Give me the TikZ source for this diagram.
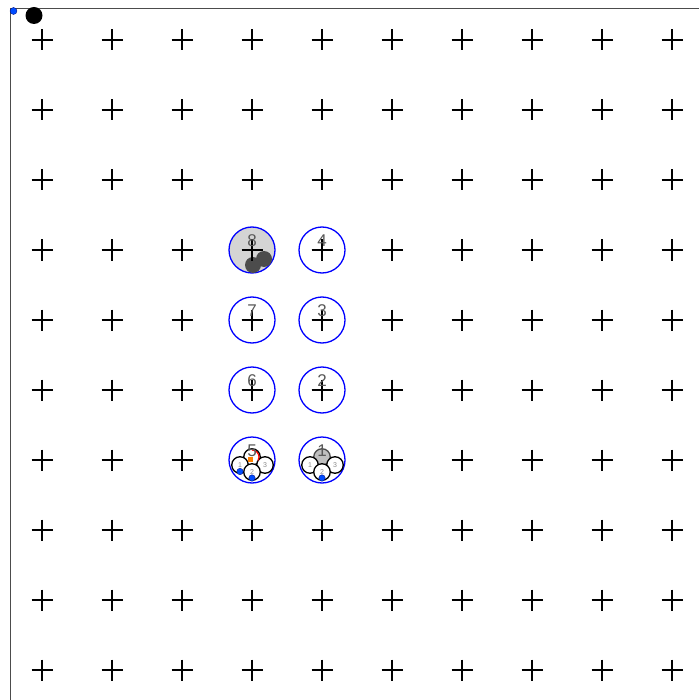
\documentclass[tikz,border=0pt]{standalone}
\usepackage{fontspec}
\setmainfont{Liberation Sans}
\usetikzlibrary{calc}
\begin{document}
\begin{tikzpicture}[x=1pt,y=-1pt,
  plusmark/.style={draw=black,line width=1.1pt},
  bigring/.style={circle,draw=blue,line width=1.3pt,minimum size=46pt,inner sep=0pt},
  biglabel/.style={text=black!65,font=\fontsize{17}{17}\selectfont,inner sep=0pt},
  smallring/.style={circle,draw=black,line width=1.3pt,fill=white,minimum size=16.5pt,inner sep=0pt,font=\fontsize{7}{7}\selectfont,text=black!45},
  bluedot/.style={circle,fill=blue!70!cyan,draw=blue!40!black,line width=0.3pt,minimum size=6.5pt,inner sep=0pt},
  darkdot/.style={circle,fill=black!70,minimum size=16pt,inner sep=0pt},
  frame/.style={draw=black!70,line width=0.9pt}]
\useasboundingbox (0,0) rectangle (699,700);
% frame
\coordinate (tl) at (10,8);
\coordinate (tr) at (699,8);
\coordinate (bl) at (10,700);
\draw[frame] (tr) -- (tl) -- (bl);
% grid of plus marks
\foreach \i in {0,...,9}{
  \foreach \j in {0,...,9}{
    \pgfmathsetmacro{\px}{42+70*\i}
    \pgfmathsetmacro{\py}{40+70*\j}
    \draw[plusmark] (\px-10.5,\py) -- (\px+10.5,\py) (\px,\py-10.5) -- (\px,\py+10.5);
  }
}
% corner dots
\node[bluedot,minimum size=7pt] (bdot) at (13.5,11) {};
\node[circle,fill=black,minimum size=17pt,inner sep=0pt] (kdot) at (34,15.5) {};
% big rings
\node[bigring,fill=black!17] (r8) at (252,250) {};
\node[darkdot] (d8a) at (253,265) {};
\node[darkdot] (d8b) at (264,259) {};
\node[bigring] (r4) at (322,250) {};
\node[bigring] (r7) at (252,320) {};
\node[bigring] (r3) at (322,320) {};
\node[bigring] (r6) at (252,390) {};
\node[bigring] (r2) at (322,390) {};
\node[bigring] (r5) at (252,460) {};
\node[bigring] (r1) at (322,460) {};
% plus marks over the rings
\foreach \px/\py in {252/250,322/250,252/320,322/320,252/390,322/390}{
  \draw[plusmark] (\px-10.5,\py) -- (\px+10.5,\py) (\px,\py-10.5) -- (\px,\py+10.5);
}
% small rings in ring 5
\node[smallring] (s5t) at (252,457) {};
\node[smallring] (s5l) at (240,465) {1};
\node[smallring] (s5r) at (265,465) {3};
\node[smallring] (s5b) at (252,472) {2};
\draw[red,line width=1.2pt] ($(s5t)+(0,-7)$) arc[start angle=-90,end angle=30,radius=7];
\node[fill=orange,minimum size=5.5pt,inner sep=0pt] (o5) at (250.5,459.5) {};
\node[bluedot] (b5a) at (240,471.5) {};
\node[bluedot] (b5b) at (252,478) {};
% small rings in ring 1
\node[smallring,draw=black!70,fill=black!25] (s1t) at (322,457) {};
\node[smallring] (s1l) at (310,465) {1};
\node[smallring] (s1r) at (335,465) {3};
\node[smallring] (s1b) at (322,472) {2};
\node[bluedot] (b1) at (322,478) {};
% labels
\node[biglabel] (l8) at (252,241) {8};
\node[biglabel] (l4) at (322,241) {4};
\node[biglabel] (l7) at (252,311) {7};
\node[biglabel] (l3) at (322,311) {3};
\node[biglabel] (l6) at (252,381) {6};
\node[biglabel] (l2) at (322,381) {2};
\node[biglabel] (l5) at (252,451) {5};
\node[biglabel] (l1) at (322,451) {1};
\end{tikzpicture}
\end{document}
